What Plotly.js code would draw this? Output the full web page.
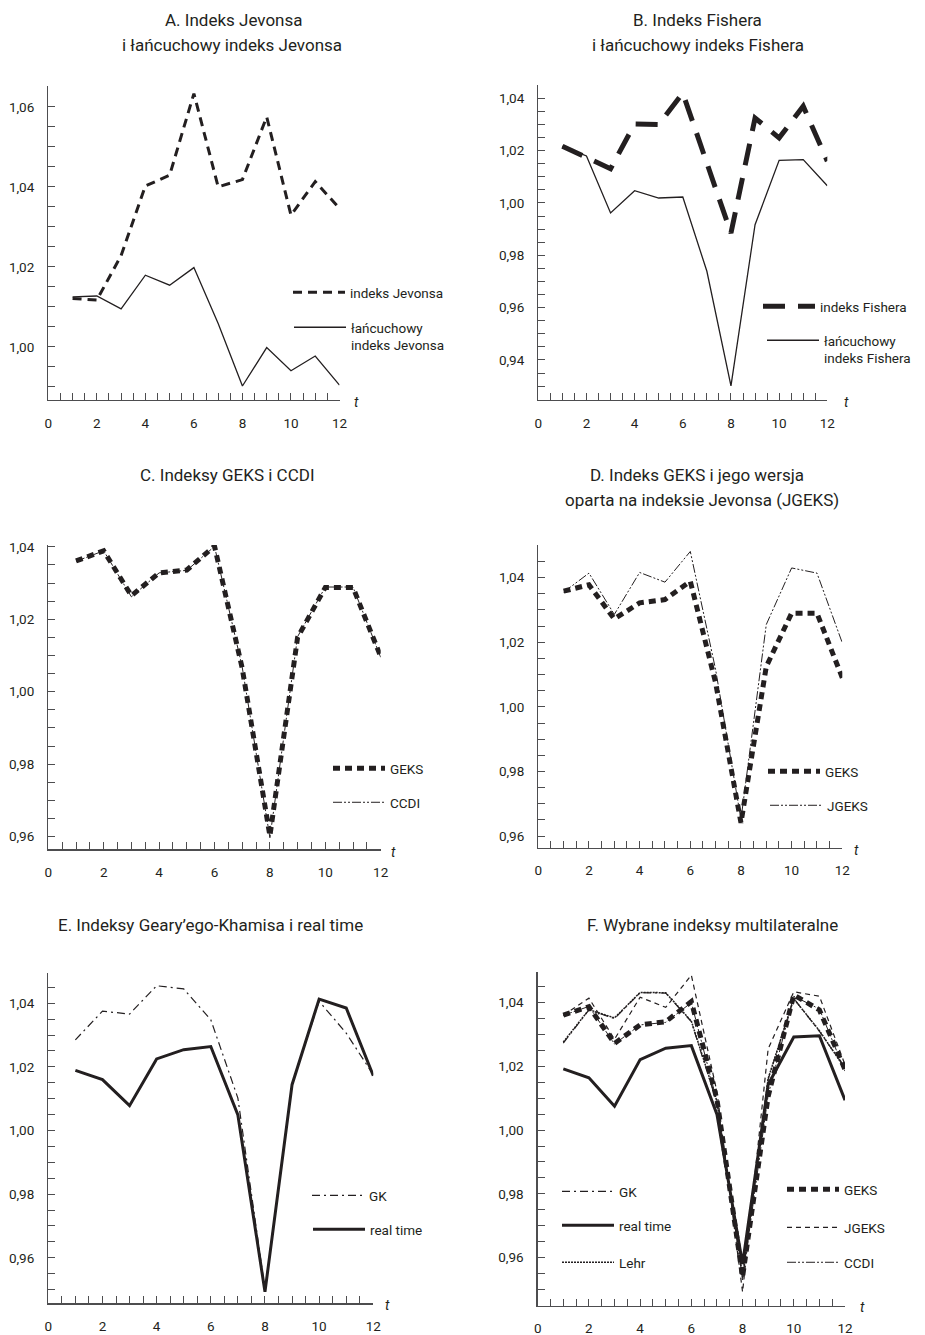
<!DOCTYPE html>
<html><head><meta charset="utf-8">
<script src="https://cdn.plot.ly/plotly-3.0.1.min.js"></script>
<style>html,body{margin:0;padding:0;background:#fff}</style>
</head><body><div id="chart" style="width:925px;height:1335px"></div>
<script>
// ---------- DATA ----------
const periods = [1,2,3,4,5,6,7,8,9,10,11,12];
const xTickVals = [0,2,4,6,8,10,12];
const xTickText = ["0","2","4","6","8","10","12"];

// Panel A
const jevonsa      = [1.0121,1.0117,1.0228,1.0402,1.0429,1.0633,1.0400,1.0418,1.0575,1.0329,1.0413,1.0346];
const chainJevonsa = [1.0125,1.0127,1.0095,1.0179,1.0154,1.0198,1.0058,0.9902,0.9998,0.9940,0.9977,0.9904];
const yTicksA = [1.00,1.02,1.04,1.06];
const yTextA  = ["1,00","1,02","1,04","1,06"];
// Panel B
const fisher      = [1.0217,1.0175,1.0131,1.0302,1.0300,1.0420,1.0155,0.9885,1.0325,1.0249,1.0370,1.0160];
const chainFisher = [1.0217,1.0180,0.9962,1.0047,1.0019,1.0023,0.9739,0.9301,0.9917,1.0163,1.0166,1.0066];
const yTicksB = [0.94,0.96,0.98,1.00,1.02,1.04];
const yTextB  = ["0,94","0,96","0,98","1,00","1,02","1,04"];
// Panel C
const geksC = [1.0361,1.0389,1.0265,1.0328,1.0336,1.0402,1.0065,0.9602,1.0150,1.0288,1.0288,1.0097];
const ccdiC = [1.0360,1.0389,1.0262,1.0328,1.0335,1.0401,1.0068,0.9597,1.0152,1.0289,1.0289,1.0095];
const yTicksC = [0.96,0.98,1.00,1.02,1.04];
const yTextC  = ["0,96","0,98","1,00","1,02","1,04"];
// Panel D
const geksD  = [1.0358,1.0378,1.0272,1.0322,1.0332,1.0389,1.0074,0.9641,1.0125,1.0290,1.0290,1.0090];
const jgeksD = [1.0355,1.0414,1.0286,1.0416,1.0386,1.0481,1.0115,0.9652,1.0255,1.0430,1.0414,1.0198];
const yTicksD = [0.96,0.98,1.00,1.02,1.04];
const yTextD  = ["0,96","0,98","1,00","1,02","1,04"];
// Panel E
const gkE       = [1.0285,1.0375,1.0366,1.0455,1.0445,1.0348,1.0102,0.9500,1.0145,1.0406,1.0306,1.0175];
const realTimeE = [1.0189,1.0160,1.0078,1.0225,1.0254,1.0264,1.0049,0.9493,1.0144,1.0413,1.0385,1.0172];
const yTicksE = [0.96,0.98,1.00,1.02,1.04];
const yTextE  = ["0,96","0,98","1,00","1,02","1,04"];
// Panel F
const gkF       = [1.0273,1.0377,1.0350,1.0431,1.0430,1.0340,1.0085,0.9535,1.0160,1.0413,1.0310,1.0195];
const realTimeF = [1.0192,1.0164,1.0075,1.0221,1.0257,1.0265,1.0049,0.9580,1.0143,1.0292,1.0296,1.0094];
const lehrF     = [1.0276,1.0378,1.0352,1.0432,1.0431,1.0342,1.0090,0.9540,1.0162,1.0412,1.0312,1.0193];
const geksF     = [1.0361,1.0387,1.0272,1.0330,1.0340,1.0403,1.0096,0.9539,1.0106,1.0424,1.0377,1.0190];
const jgeksF    = [1.0360,1.0414,1.0285,1.0417,1.0385,1.0486,1.0120,0.9492,1.0255,1.0434,1.0420,1.0205];
const ccdiF     = [1.0360,1.0388,1.0270,1.0330,1.0338,1.0400,1.0090,0.9530,1.0110,1.0420,1.0380,1.0185];
const yTicksF = [0.96,0.98,1.00,1.02,1.04];
const yTextF  = ["0,96","0,98","1,00","1,02","1,04"];

// ---------- LAYOUT HELPERS ----------
const W = 925, H = 1335;
const INK = '#231f20', AX = '#4d4d4f';
const FONT = 'Roboto, "Noto Sans", sans-serif';
const px = x => x / W;
const py = y => 1 - y / H;

const panels = [
  {id:'', x0:48.3, x1:339.5, y0:86,  y1:400,    range:[0.9867,1.0652], tv:yTicksA, tt:yTextA},
  {id:'2',x0:538.3,x1:827.3, y0:85,  y1:400,    range:[0.9247,1.0451], tv:yTicksB, tt:yTextB},
  {id:'3',x0:48.3, x1:380.7, y0:545, y1:849.3,  range:[0.9565,1.0405], tv:yTicksC, tt:yTextC},
  {id:'4',x0:538.3,x1:842.3, y0:545, y1:847.7,  range:[0.9564,1.0501], tv:yTicksD, tt:yTextD},
  {id:'5',x0:48.3, x1:373.3, y0:973, y1:1303.3, range:[0.9457,1.0495], tv:yTicksE, tt:yTextE},
  {id:'6',x0:537.7,x1:845,   y0:972, y1:1305.7, range:[0.9449,1.0496], tv:yTicksF, tt:yTextF}
];

const layout = {
  width: W, height: H,
  margin: {l:0, r:0, t:0, b:0},
  paper_bgcolor: '#fff', plot_bgcolor: '#fff',
  separators: ', ',
  font: {family: FONT, color: INK, size: 13},
  annotations: [], showlegend: true
};

panels.forEach(p => {
  layout['xaxis' + p.id] = {
    domain: [px(p.x0), px(p.x1)], range: [0, 12], anchor: 'y' + p.id,
    showline: true, linecolor: AX, linewidth: 1.3, showgrid: false, zeroline: false,
    tickmode: 'array', tickvals: xTickVals, ticktext: xTickText,
    ticks: 'inside', ticklen: 7, tickcolor: AX, tickwidth: 1,
    ticklabelstandoff: 10,
    minor: {tickmode: 'linear', tick0: 0, dtick: 0.5, ticks: 'inside', ticklen: 7, tickcolor: AX, tickwidth: 1, showgrid: false},
    tickfont: {family: FONT, size: 13.5, color: INK}, fixedrange: true
  };
  layout['yaxis' + p.id] = {
    domain: [py(p.y1), py(p.y0)], range: p.range, anchor: 'x' + p.id,
    showline: true, linecolor: AX, linewidth: 1.3, showgrid: false, zeroline: false,
    tickmode: 'array', tickvals: p.tv, ticktext: p.tt,
    ticks: 'inside', ticklen: 7, tickcolor: AX, tickwidth: 1,
    ticklabelstandoff: 10,
    minor: {tickmode: 'linear', tick0: 0, dtick: 0.005, ticks: 'inside', ticklen: 7, tickcolor: AX, tickwidth: 1, showgrid: false},
    tickfont: {family: FONT, size: 13.5, color: INK}, fixedrange: true
  };
});

// "t" labels
[[356,402],[846,402],[393,852],[856,850],[387,1305],[862,1307]].forEach(([x,y]) => {
  layout.annotations.push({xref:'paper', yref:'paper', x:px(x), y:py(y), xanchor:'center', yanchor:'middle',
    text:'<i>t</i>', showarrow:false, font:{family:FONT, size:14, color:INK}});
});

// panel titles
const titles = [
  ['A. Indeks Jevonsa', 234, 20], ['i łańcuchowy indeks Jevonsa', 232, 45],
  ['B. Indeks Fishera', 697, 20], ['i łańcuchowy indeks Fishera', 698, 45],
  ['C. Indeksy GEKS i CCDI', 227, 475],
  ['D. Indeks GEKS i jego wersja', 697, 475], ['oparta na indeksie Jevonsa (JGEKS)', 702, 500],
  ['E. Indeksy Geary’ego-Khamisa i real time', 210, 925],
  ['F. Wybrane indeksy multilateralne', 712, 925]
];
titles.forEach(([t,x,y]) => {
  layout.annotations.push({xref:'paper', yref:'paper', x:px(x), y:py(y), xanchor:'center', yanchor:'middle',
    text:t, showarrow:false, font:{family:FONT, size:17, color:INK}});
});

// legends: [key, sampleStartX, sampleY]
const legendPos = {
  legend:  [293, 292], legend2: [294, 327],
  legend3: [763, 306], legend4: [767, 340],
  legend5: [333, 768], legend6: [333, 802],
  legend7: [768, 771], legend8: [770, 805],
  legend9: [312, 1195], legend10: [313, 1229],
  legend11: [562, 1191], legend12: [562, 1225], legend13: [562, 1262],
  legend14: [787, 1189], legend15: [787, 1227], legend16: [787, 1262]
};
Object.keys(legendPos).forEach(k => {
  const [x, y] = legendPos[k];
  layout[k] = {x: px(x - 5), y: py(y - 15), xanchor: 'left', yanchor: 'top',
    bgcolor: 'rgba(0,0,0,0)', borderwidth: 0, itemwidth: 52, valign: 'top',
    font: {family: FONT, size: 13.5, color: INK}, itemclick: false, itemdoubleclick: false};
});

// ---------- TRACES ----------
const st = {
  jev:   {color: INK, width: 3,   dash: '9px,6px'},
  chain: {color: INK, width: 1.3},
  fish:  {color: INK, width: 5,   dash: '22px,13px'},
  geks:  {color: INK, width: 5,   dash: '7px,5px'},
  ccdi:  {color: INK, width: 1,   dash: '9px,2px,2px,2px,2px,2px'},
  gk:    {color: INK, width: 1.2, dash: '8px,4px,2px,4px'},
  real:  {color: INK, width: 3},
  jgeksF:{color: INK, width: 1.2, dash: '5px,4px'},
  lehr:  {color: INK, width: 1.5, dash: '2px,1px'}
};
function tr(y, ax, name, line, leg) {
  return {x: periods, y: y, xaxis: 'x' + ax, yaxis: 'y' + ax, name: name, mode: 'lines',
    line: line, legend: leg, showlegend: true, hoverinfo: 'skip'};
}
const data = [
  tr(chainJevonsa, '', 'łańcuchowy<br>indeks Jevonsa', st.chain, 'legend2'),
  tr(jevonsa, '', 'indeks Jevonsa', st.jev, 'legend'),
  tr(chainFisher, '2', 'łańcuchowy<br>indeks Fishera', st.chain, 'legend4'),
  tr(fisher, '2', 'indeks Fishera', st.fish, 'legend3'),
  tr(geksC, '3', 'GEKS', st.geks, 'legend5'),
  tr(ccdiC, '3', 'CCDI', st.ccdi, 'legend6'),
  tr(jgeksD, '4', 'JGEKS', st.ccdi, 'legend8'),
  tr(geksD, '4', 'GEKS', st.geks, 'legend7'),
  tr(gkE, '5', 'GK', st.gk, 'legend9'),
  tr(realTimeE, '5', 'real time', st.real, 'legend10'),
  tr(geksF, '6', 'GEKS', st.geks, 'legend14'),
  tr(gkF, '6', 'GK', st.gk, 'legend11'),
  tr(lehrF, '6', 'Lehr', st.lehr, 'legend13'),
  tr(jgeksF, '6', 'JGEKS', st.jgeksF, 'legend15'),
  tr(ccdiF, '6', 'CCDI', st.ccdi, 'legend16'),
  tr(realTimeF, '6', 'real time', st.real, 'legend12')
];

Plotly.newPlot('chart', data, layout, {staticPlot: true, displayModeBar: false});
</script>
</body></html>
